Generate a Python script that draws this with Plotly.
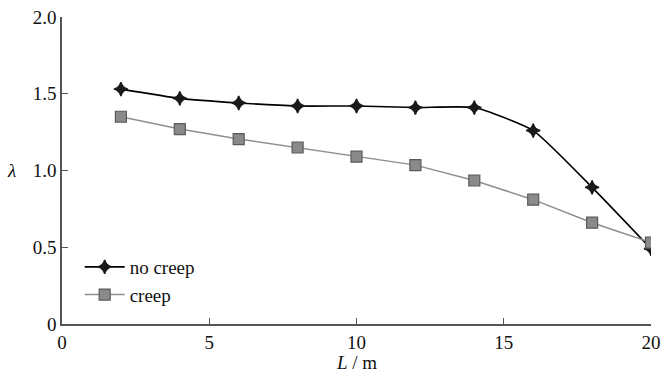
import plotly.graph_objects as go

L = [2, 4, 6, 8, 10, 12, 14, 16, 18, 20]
no_creep = [1.53, 1.47, 1.44, 1.42, 1.42, 1.41, 1.41, 1.26, 0.89, 0.49]
creep = [1.35, 1.27, 1.205, 1.15, 1.09, 1.035, 0.935, 0.81, 0.66, 0.53]
x_ticks = [0, 5, 10, 15, 20]
y_ticks = [0, 0.5, 1.0, 1.5, 2.0]
y_tick_labels = ["0", "0.5", "1.0", "1.5", "2.0"]

FONT = "Liberation Serif, Times New Roman, serif"

fig = go.Figure()
fig.add_trace(go.Scatter(
    x=L, y=no_creep, name="no creep", mode="lines+markers",
    line=dict(color="#000000", width=1.6, shape="spline", smoothing=0.5),
    marker=dict(symbol="star-diamond", size=10, color="#1a1a1a",
                line=dict(color="#1a1a1a", width=1.5)),
))
fig.add_trace(go.Scatter(
    x=L, y=creep, name="creep", mode="lines+markers",
    line=dict(color="#8f8f8f", width=1.5),
    marker=dict(symbol="square", size=11, color="#8a8a8a",
                line=dict(color="#5a5a5a", width=1.2)),
))

fig.update_layout(
    width=665, height=373,
    margin=dict(l=62, r=14, t=17, b=49, autoexpand=False),
    paper_bgcolor="white", plot_bgcolor="white",
    font=dict(family=FONT, size=19, color="#111111"),
    showlegend=True,
    legend=dict(x=0.03, y=0.14, xanchor="left", yanchor="middle",
                traceorder="normal", bgcolor="rgba(0,0,0,0)",
                font=dict(family=FONT, size=19), itemwidth=40,
                tracegroupgap=0),
    xaxis=dict(range=[0, 20], tickvals=x_ticks, ticks="inside", ticklen=6,
               tickcolor="#555555", showline=True, linecolor="#555555",
               linewidth=1.5, showgrid=False, zeroline=False,
               automargin=False, ticklabeloverflow="allow"),
    yaxis=dict(range=[0, 2.0], tickvals=y_ticks, ticktext=y_tick_labels,
               ticks="inside", ticklen=6, tickcolor="#555555",
               showline=True, linecolor="#555555", linewidth=1.5,
               showgrid=False, zeroline=False, automargin=False,
               ticklabeloverflow="allow"),
)
fig.add_annotation(text="<i>λ</i>", xref="paper", yref="paper",
                   x=-0.085, y=0.5, xanchor="center", yanchor="middle",
                   showarrow=False, font=dict(family=FONT, size=19))
fig.add_annotation(text="<i>L</i> / m", xref="paper", yref="paper",
                   x=0.5, y=-0.125, xanchor="center", yanchor="middle",
                   showarrow=False, font=dict(family=FONT, size=19))

fig.write_html(
    "out.html",
    config={"displayModeBar": False},
    post_script="document.body.style.margin='0';document.body.style.overflow='hidden';",
)
